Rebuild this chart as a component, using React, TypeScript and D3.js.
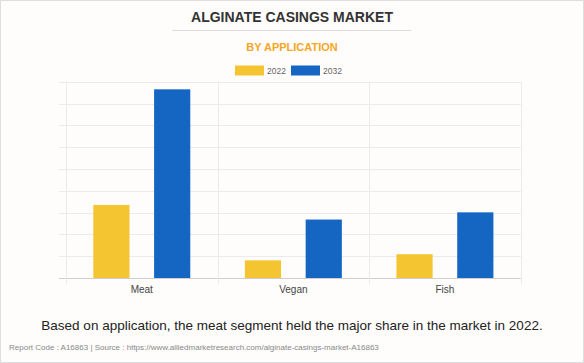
import React, { useEffect, useRef } from "react";
import * as d3 from "d3";

const categories = ["Meat", "Vegan", "Fish"];
const seriesNames = ["2022", "2032"];
const values2022 = [3.35, 0.81, 1.09];
const values2032 = [8.65, 2.68, 3.01];
const seriesColors = ["#f4c531", "#1565c2"];

const W = 584;
const H = 363;

const App = () => {
  const svgRef = useRef<SVGSVGElement>(null);

  useEffect(() => {
    const svg = d3.select(svgRef.current);
    svg.selectAll("*").remove();

    const font = "'Liberation Sans', Arial, sans-serif";
    const left = 66, right = 520.7, top = 81.7, bottom = 278;

    svg
      .append("rect")
      .attr("x", 0.5)
      .attr("y", 0.5)
      .attr("width", W - 1)
      .attr("height", H - 1)
      .attr("fill", "#fefdfc")
      .attr("stroke", "#dedede");

    // titles
    svg
      .append("text")
      .attr("x", W / 2)
      .attr("y", 22)
      .attr("text-anchor", "middle")
      .attr("font-family", font)
      .attr("font-weight", "bold")
      .attr("font-size", 14)
      .attr("fill", "#333")
      .text("ALGINATE CASINGS MARKET");

    svg
      .append("line")
      .attr("x1", 172)
      .attr("x2", 411.5)
      .attr("y1", 30.5)
      .attr("y2", 30.5)
      .attr("stroke", "#dcdcdc");

    svg
      .append("text")
      .attr("x", W / 2)
      .attr("y", 51)
      .attr("text-anchor", "middle")
      .attr("font-family", font)
      .attr("font-weight", "bold")
      .attr("font-size", 11)
      .attr("fill", "#f5a623")
      .text("BY APPLICATION");

    // legend
    const legend = svg.append("g").attr("font-family", font).attr("font-size", 8.5).attr("fill", "#666");
    seriesNames.forEach((name, i) => {
      const x0 = 235 + i * 56;
      legend
        .append("rect")
        .attr("x", x0)
        .attr("y", 65.5)
        .attr("width", 29)
        .attr("height", 10)
        .attr("fill", seriesColors[i]);
      legend
        .append("text")
        .attr("x", x0 + 32)
        .attr("y", 73.5)
        .text(name);
    });

    const x = d3.scaleBand().domain(categories).range([left, right]);
    const xInner = d3
      .scaleBand()
      .domain(seriesNames)
      .range([0, x.bandwidth()])
      .paddingInner(0.405)
      .paddingOuter(0.449);
    const y = d3.scaleLinear().domain([0, 9]).range([bottom, top]);

    const grid = svg.append("g");
    grid
      .selectAll("line.h")
      .data(y.ticks(9))
      .join("line")
      .attr("class", "h")
      .attr("x1", left - 7)
      .attr("x2", right)
      .attr("y1", (d) => Math.round(y(d)) + 0.5)
      .attr("y2", (d) => Math.round(y(d)) + 0.5)
      .attr("stroke", (d) => (d === 0 ? "#cfcfcf" : "#ebebeb"));

    const vx = categories.map((c) => x(c) as number).concat([right]);
    grid
      .selectAll("line.v")
      .data(vx)
      .join("line")
      .attr("class", "v")
      .attr("x1", (d) => Math.round(d) + 0.5)
      .attr("x2", (d) => Math.round(d) + 0.5)
      .attr("y1", top)
      .attr("y2", bottom + 6)
      .attr("stroke", "#ebebeb");

    const rows = categories.map((c, i) => ({ c, vals: [values2022[i], values2032[i]] }));
    const groups = svg
      .append("g")
      .selectAll("g")
      .data(rows)
      .join("g")
      .attr("transform", (d) => `translate(${x(d.c)},0)`);

    groups
      .selectAll("rect")
      .data((d) => d.vals.map((v, i) => ({ v, s: seriesNames[i], i })))
      .join("rect")
      .attr("x", (d) => xInner(d.s) as number)
      .attr("width", xInner.bandwidth())
      .attr("y", (d) => y(d.v))
      .attr("height", (d) => bottom - y(d.v))
      .attr("fill", (d) => seriesColors[d.i]);

    svg
      .append("g")
      .selectAll("text")
      .data(categories)
      .join("text")
      .attr("x", (d) => (x(d) as number) + x.bandwidth() / 2)
      .attr("y", 293)
      .attr("text-anchor", "middle")
      .attr("font-family", font)
      .attr("font-size", 10)
      .attr("fill", "#444")
      .text((d) => d);

    svg
      .append("text")
      .attr("x", W / 2)
      .attr("y", 330)
      .attr("text-anchor", "middle")
      .attr("font-family", font)
      .attr("font-size", 13.5)
      .attr("fill", "#222")
      .text("Based on application, the meat segment held the major share in the market in 2022.");

    svg
      .append("text")
      .attr("x", 9)
      .attr("y", 350)
      .attr("font-family", font)
      .attr("font-size", 8)
      .attr("fill", "#888")
      .text("Report Code : A16863  |  Source : https://www.alliedmarketresearch.com/alginate-casings-market-A16863");
  }, []);

  return (
    <div style={{ position: "absolute", left: 0, top: 0 }}>
      <svg ref={svgRef} width={W} height={H} style={{ display: "block" }} />
    </div>
  );
};

export default App;
